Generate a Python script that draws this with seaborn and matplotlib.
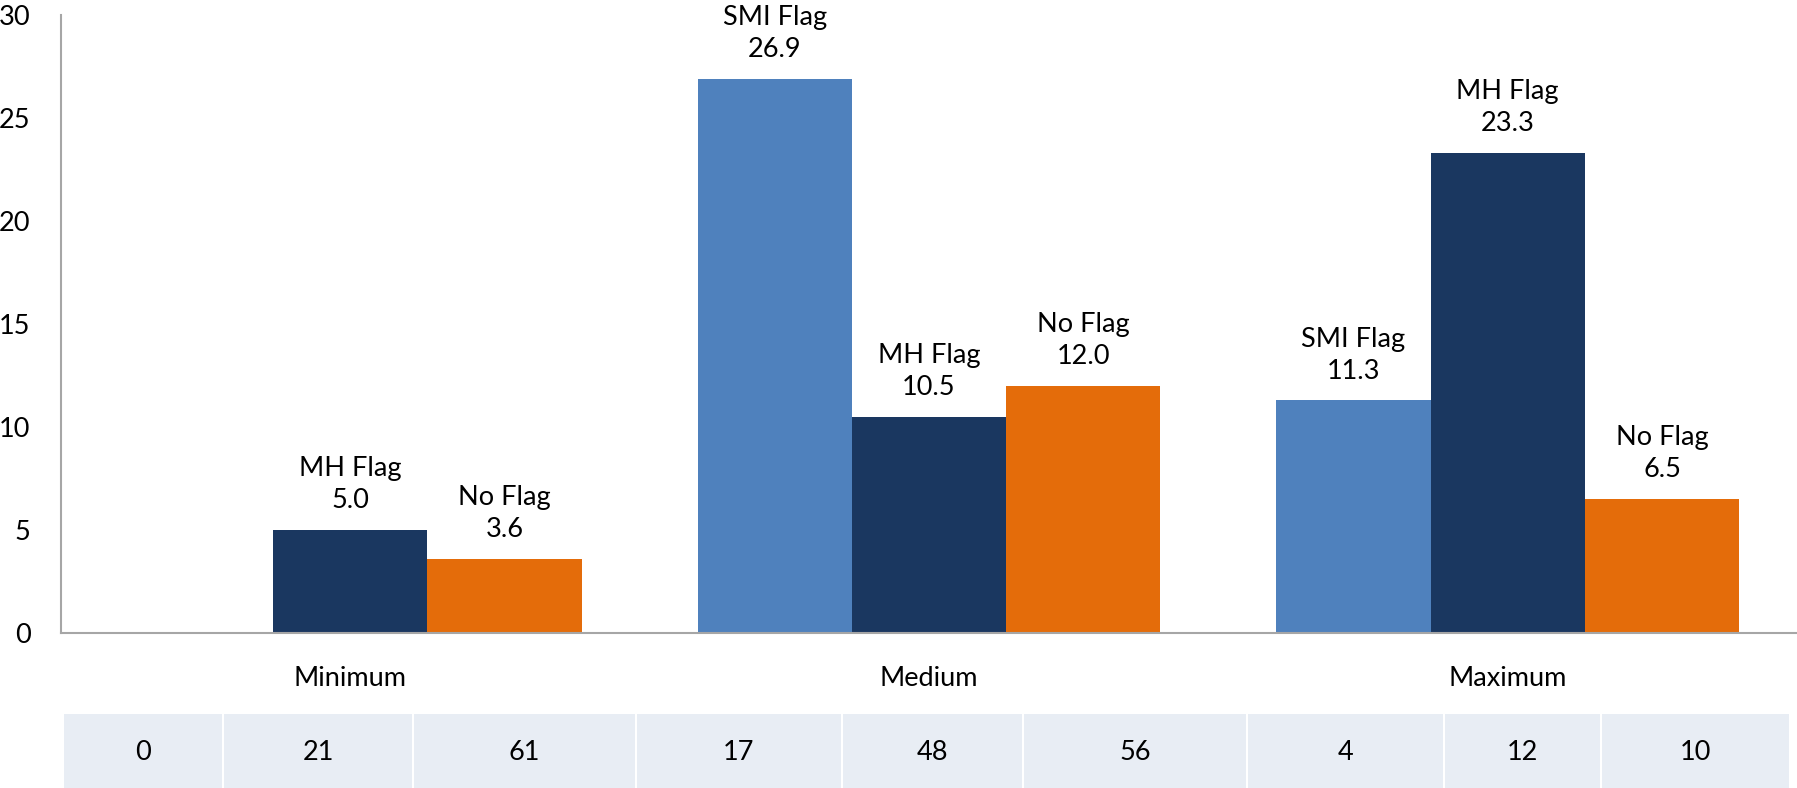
import matplotlib
matplotlib.use("Agg")
import matplotlib.pyplot as plt
import seaborn as sns
import pandas as pd
from matplotlib.patches import Rectangle

categories = ["Minimum", "Medium", "Maximum"]
series = ["SMI Flag", "MH Flag", "No Flag"]
smi_values = [0.0, 26.9, 11.3]
mh_values = [5.0, 10.5, 23.3]
noflag_values = [3.6, 12.0, 6.5]
counts = [0, 21, 61, 17, 48, 56, 4, 12, 10]
colors = ["#4F81BD", "#1A3760", "#E46C0A"]

rows = []
for s, vals in zip(series, [smi_values, mh_values, noflag_values]):
    for c, v in zip(categories, vals):
        rows.append({"Category": c, "Series": s, "Value": v})
df = pd.DataFrame(rows)

sns.set_theme(style="white")
FONT = ["Lato", "DejaVu Sans"]
plt.rcParams["font.family"] = FONT
FS = 19.5

fig = plt.figure(figsize=(17.97, 7.88), dpi=100)
ax = fig.add_axes([61 / 1797, 1 - 633 / 788, 1 - 61 / 1797, (633 - 15) / 788])

sns.barplot(data=df, x="Category", y="Value", hue="Series", order=categories,
            hue_order=series, palette=colors, width=0.8, saturation=1,
            legend=False, ax=ax, linewidth=0, errorbar=None)

ax.set_ylim(0, 30)
ax.set_xlim(-0.5, 2.5)
ax.set_yticks([0, 5, 10, 15, 20, 25, 30])
ax.set_xlabel("")
ax.set_ylabel("")
ax.tick_params(axis="y", length=0, pad=22, labelsize=FS, labelcolor="#000000")
ax.tick_params(axis="x", length=0, pad=24, labelsize=FS, labelcolor="#000000")
for sp in ["top", "right"]:
    ax.spines[sp].set_visible(False)
for sp in ["left", "bottom"]:
    ax.spines[sp].set_color("#A6A6A6")
    ax.spines[sp].set_linewidth(1.5)

for cont, s in zip(ax.containers, series):
    labels = [f"{s}\n{b.get_height():.1f}" if b.get_height() > 0 else "" for b in cont]
    texts = ax.bar_label(cont, labels=labels, padding=12, fontsize=FS,
                         linespacing=1.35, color="#000000")
    for t in texts:
        t.set_clip_on(False)

# count table below chart
edges = [63, 223, 413, 636, 842, 1023, 1247, 1444, 1601, 1790]
tax = fig.add_axes([0, 0, 1, 74 / 788])
tax.set_xlim(0, 1797)
tax.set_ylim(0, 1)
tax.axis("off")
for i, n in enumerate(counts):
    x0, x1 = edges[i], edges[i + 1]
    tax.add_patch(Rectangle((x0 + 1, 0), x1 - x0 - 2, 1, facecolor="#E8EDF4",
                            edgecolor="none"))
    tax.text((x0 + x1) / 2, 0.48, str(n), ha="center", va="center",
             fontsize=FS, color="#000000")

fig.savefig("out.png", dpi=100)
